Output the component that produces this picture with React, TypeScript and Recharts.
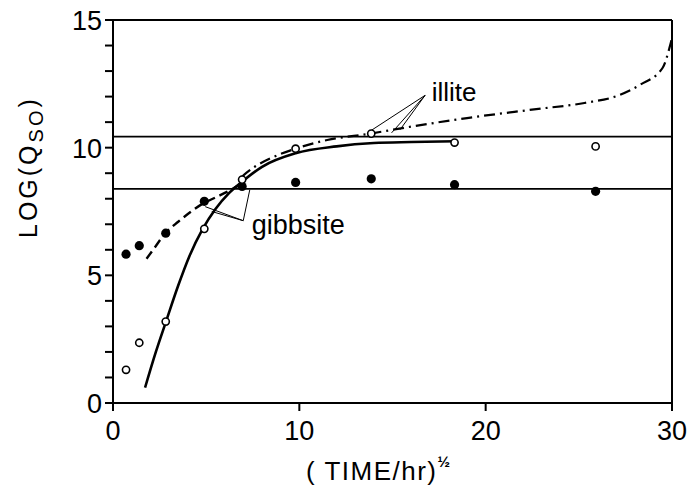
import React from "react";
import {
  ComposedChart,
  Line,
  Scatter,
  XAxis,
  YAxis,
  ReferenceLine,
  ReferenceDot
} from "recharts";

// sqrt(time/hr) sampling points
const sampleX = [0.7, 1.41, 2.83, 4.9, 6.93, 9.8, 13.86, 18.33, 25.9];
const openValues = [1.3, 2.36, 3.19, 6.82, 8.75, 9.96, 10.55, 10.2, 10.05];
const filledValues = [5.83, 6.16, 6.65, 7.9, 8.48, 8.64, 8.78, 8.55, 8.29];

// fitted curves
const solidX = [1.72, 2.3, 2.85, 3.5, 4.1, 4.8, 5.5, 6.2, 6.9, 8, 9.8, 12, 14, 16, 18.4];
const solidY = [0.6, 2.0, 3.2, 4.6, 5.75, 6.8, 7.6, 8.2, 8.65, 9.25, 9.78, 10.05, 10.18, 10.22, 10.25];

const dashedX = [1.8, 2.3, 2.75, 3.5, 4.2, 4.8, 5.5, 6.2, 6.9];
const dashedY = [5.65, 6.15, 6.6, 7.1, 7.5, 7.8, 8.05, 8.3, 8.6];

const dashDotX = [6.9, 7.5, 8.5, 9.8, 11.5, 13.8, 15.8, 19, 22.6, 25.3, 27.1, 28.3, 29.5, 29.86, 30];
const dashDotY = [8.85, 9.2, 9.6, 9.96, 10.3, 10.55, 10.8, 11.16, 11.5, 11.75, 12.04, 12.47, 13.13, 13.9, 14.3];

const equilibriumLevels = [10.43, 8.39];

const xTicks = [0, 10, 20, 30];
const yTicks = [0, 1, 2, 3, 4, 5, 6, 7, 8, 9, 10, 11, 12, 13, 14, 15];
const yLabelled = [0, 5, 10, 15];

const toPoints = (xs: number[], ys: number[]) => xs.map((x, i) => ({ x, y: ys[i] }));

const openPoints = toPoints(sampleX, openValues);
const filledPoints = toPoints(sampleX, filledValues);
const solidCurve = toPoints(solidX, solidY);
const dashedCurve = toPoints(dashedX, dashedY);
const dashDotCurve = toPoints(dashDotX, dashDotY);

const FONT = "'Liberation Sans', Arial, sans-serif";
const TICK_LEN = 8;
const TICK_GAP = 3;

// tick x/y arrive at the text anchor, i.e. axis + tick length + margin
function XTick({ x, y, payload }: any) {
  const axisY = Number(y) - TICK_LEN - TICK_GAP;
  return (
    <g>
      <path d={`M${x},${axisY}v${TICK_LEN}`} stroke="#000" strokeWidth={2} fill="none" />
      <text x={x} y={y} textAnchor="middle" dy={26} fontSize={27} fontFamily={FONT} fill="#000">
        {payload.value}
      </text>
    </g>
  );
}

function YTick({ x, y, payload }: any) {
  const axisX = Number(x) + TICK_LEN + TICK_GAP;
  return (
    <g>
      <path d={`M${axisX - TICK_LEN},${y}h${TICK_LEN}`} stroke="#000" strokeWidth={2} fill="none" />
      {yLabelled.includes(payload.value) && (
        <text x={x} y={y} textAnchor="end" dy={10} fontSize={27} fontFamily={FONT} fill="#000">
          {payload.value}
        </text>
      )}
    </g>
  );
}

const openDot = (props: any) => (
  <circle cx={props.cx} cy={props.cy} r={3.6} fill="#fff" stroke="#000" strokeWidth={1.6} />
);
const filledDot = (props: any) => <circle cx={props.cx} cy={props.cy} r={4.6} fill="#000" />;

export default function App() {
  return (
    <div style={{ position: "fixed", left: 0, top: 0, width: 690, height: 487, background: "#fff" }}>
      <ComposedChart width={690} height={487} margin={{ top: 20, right: 18, bottom: 0, left: 0 }}>
        <XAxis
          type="number"
          dataKey="x"
          domain={[0, 30]}
          ticks={xTicks}
          interval={0}
          allowDataOverflow
          stroke="#000"
          strokeWidth={2}
          tickSize={TICK_LEN}
          tickMargin={TICK_GAP}
          tickLine={false}
          height={84}
          tick={<XTick />}
          label={{
            content: () => (
              <text x={306} y={480} fontSize={26} fontFamily={FONT} fill="#000" letterSpacing={1.5}>
                ( TIME/hr)
                <tspan dy={-13} fontSize={15} fontWeight="bold" letterSpacing={0}>½</tspan>
              </text>
            )
          }}
        />
        <YAxis
          type="number"
          dataKey="y"
          domain={[0, 15]}
          ticks={yTicks}
          interval={0}
          allowDataOverflow
          stroke="#000"
          strokeWidth={2}
          tickSize={TICK_LEN}
          tickMargin={TICK_GAP}
          tickLine={false}
          width={113}
          tick={<YTick />}
          label={{
            content: () => (
              <text
                transform="translate(37,238) rotate(-90)"
                fontSize={25}
                fontFamily={FONT}
                letterSpacing={3}
                fill="#000"
              >
                LOG(Q
                <tspan dy={6} fontSize={20}>SO</tspan>
                <tspan dy={-6}>)</tspan>
              </text>
            )
          }}
        />
        <ReferenceLine y={15} stroke="#000" strokeWidth={2} />
        <ReferenceLine x={30} stroke="#000" strokeWidth={2} />
        {equilibriumLevels.map((v) => (
          <ReferenceLine key={v} y={v} stroke="#000" strokeWidth={1.8} />
        ))}

        {/* illite leader lines */}
        <ReferenceLine segment={[{ x: 16.75, y: 12.05 }, { x: 13.7, y: 10.6 }]} stroke="#000" strokeWidth={1} />
        <ReferenceLine segment={[{ x: 16.75, y: 12.05 }, { x: 14.95, y: 10.58 }]} stroke="#000" strokeWidth={1} />
        <ReferenceLine segment={[{ x: 16.75, y: 12.05 }, { x: 15.4, y: 10.7 }]} stroke="#000" strokeWidth={1} />
        {/* gibbsite bracket */}
        <ReferenceLine segment={[{ x: 7.34, y: 8.35 }, { x: 6.99, y: 7.14 }]} stroke="#000" strokeWidth={1} />
        <ReferenceLine segment={[{ x: 6.99, y: 7.14 }, { x: 4.95, y: 7.69 }]} stroke="#000" strokeWidth={1} />
        <ReferenceLine segment={[{ x: 6.99, y: 7.14 }, { x: 5.3, y: 7.5 }]} stroke="#000" strokeWidth={1} />

        <ReferenceDot
          x={17}
          y={12.2}
          r={0}
          stroke="none"
          label={{ value: "illite", position: "right", offset: 2, fontSize: 26, fontFamily: FONT, fill: "#000" }}
        />
        <ReferenceDot
          x={7.45}
          y={7.0}
          r={0}
          stroke="none"
          label={{ value: "gibbsite", position: "right", offset: 0, fontSize: 27, fontFamily: FONT, fill: "#000" }}
        />

        <Line data={solidCurve} dataKey="y" type="monotone" stroke="#000" strokeWidth={2.6} dot={false} isAnimationActive={false} />
        <Line data={dashedCurve} dataKey="y" type="monotone" stroke="#000" strokeWidth={2.4} strokeDasharray="9 5" dot={false} isAnimationActive={false} />
        <Line data={dashDotCurve} dataKey="y" type="monotone" stroke="#000" strokeWidth={2.2} strokeDasharray="11 5 2 5" dot={false} isAnimationActive={false} />
        <Scatter data={filledPoints} dataKey="y" shape={filledDot} isAnimationActive={false} />
        <Scatter data={openPoints} dataKey="y" shape={openDot} isAnimationActive={false} />
      </ComposedChart>
    </div>
  );
}
